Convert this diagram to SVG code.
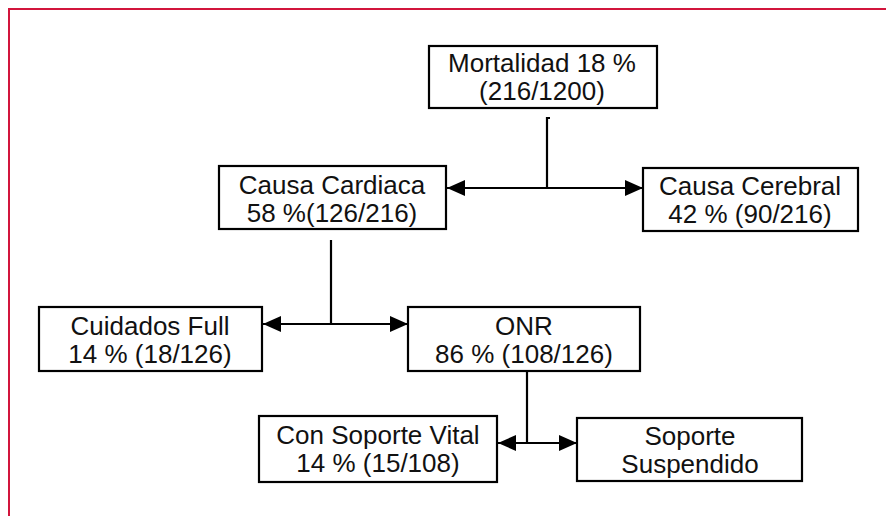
<svg xmlns="http://www.w3.org/2000/svg" width="886" height="516" viewBox="0 0 886 516">
<defs>
<style>
.box{fill:#fff;stroke:#000;stroke-width:2.2}
.t{font-family:"Liberation Sans",Arial,sans-serif;font-size:26px;fill:#111;text-anchor:middle}
.c{fill:none;stroke:#000;stroke-width:2.2}
.frame{fill:none;stroke:#d2153c;stroke-width:2}
</style>
<marker id="ah" viewBox="0 0 18 16" refX="18" refY="8" markerWidth="18" markerHeight="16" markerUnits="userSpaceOnUse" orient="auto-start-reverse">
<path d="M0,0 L18,8 L0,16 Z" fill="#000"/>
</marker>
</defs>
<rect width="886" height="516" fill="#fff"/>
<path class="frame" d="M9,516 L9,9 L886,9"/>
<g id="connectors">
<path class="c" d="M550,118 L547,118 L547,188"/>
<line class="c" x1="447" y1="188" x2="643" y2="188" marker-start="url(#ah)" marker-end="url(#ah)"/>
<line class="c" x1="331" y1="240" x2="331" y2="324"/>
<line class="c" x1="263" y1="324" x2="408" y2="324" marker-start="url(#ah)" marker-end="url(#ah)"/>
<line class="c" x1="527" y1="371" x2="527" y2="443"/>
<line class="c" x1="498" y1="443" x2="577" y2="443" marker-start="url(#ah)" marker-end="url(#ah)"/>
</g>
<g id="mortalidad">
<rect class="box" x="429" y="46" width="228" height="62"/>
<text class="t" x="542" y="72">Mortalidad 18 %</text>
<text class="t" x="542" y="100">(216/1200)</text>
</g>
<g id="cardiaca">
<rect class="box" x="219" y="166" width="227" height="63"/>
<text class="t" x="332" y="194">Causa Cardiaca</text>
<text class="t" x="332" y="222">58 %(126/216)</text>
</g>
<g id="cerebral">
<rect class="box" x="643" y="168" width="215" height="63"/>
<text class="t" x="750" y="195">Causa Cerebral</text>
<text class="t" x="750" y="223">42 % (90/216)</text>
</g>
<g id="cuidados">
<rect class="box" x="39" y="307" width="223" height="64"/>
<text class="t" x="150" y="335">Cuidados Full</text>
<text class="t" x="150" y="363">14 % (18/126)</text>
</g>
<g id="onr">
<rect class="box" x="408" y="307" width="232" height="64"/>
<text class="t" x="524" y="335">ONR</text>
<text class="t" x="524" y="363">86 % (108/126)</text>
</g>
<g id="con-soporte">
<rect class="box" x="259" y="416" width="238" height="66"/>
<text class="t" x="378" y="444">Con Soporte Vital</text>
<text class="t" x="378" y="472">14 % (15/108)</text>
</g>
<g id="soporte-suspendido">
<rect class="box" x="577" y="418" width="225" height="63"/>
<text class="t" x="690" y="445">Soporte</text>
<text class="t" x="690" y="473">Suspendido</text>
</g>
</svg>
